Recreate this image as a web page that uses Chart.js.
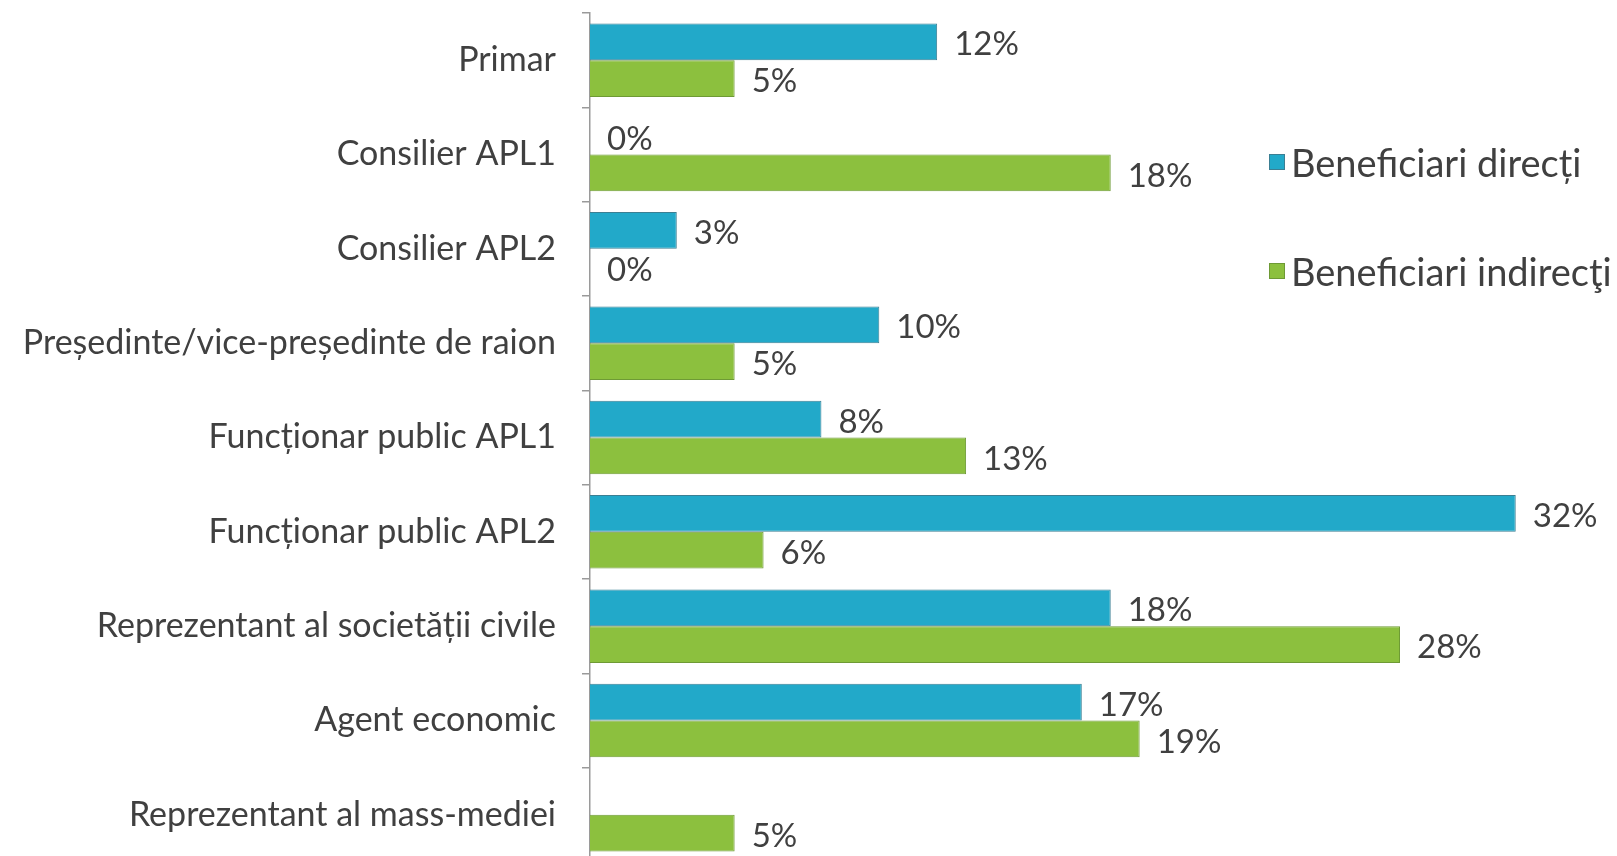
<!DOCTYPE html>
<html>
<head>
<meta charset="utf-8">
<script src="https://cdn.jsdelivr.net/npm/chart.js@4/dist/chart.umd.min.js"></script>
<style>
  html, body { margin: 0; padding: 0; background: #fff; overflow: hidden; }
  #wrap { position: relative; width: 1617px; height: 862px; }
  #legend { position: absolute; left: 1269px; top: 0; font-family: Lato, "Open Sans", sans-serif; font-size: 38px; color: #404040; }
  .item { position: absolute; left: 0; display: flex; align-items: center; white-space: nowrap; }
  .box { width: 14px; height: 14px; margin-right: 6px; border: 1px solid; }
</style>
</head>
<body>
<div id="wrap">
  <canvas id="chart"></canvas>
  <div id="legend"></div>
</div>
<script>
const categories = [
  "Primar",
  "Consilier APL1",
  "Consilier APL2",
  "Președinte/vice-președinte de raion",
  "Funcționar public APL1",
  "Funcționar public APL2",
  "Reprezentant al societății civile",
  "Agent economic",
  "Reprezentant al mass-mediei"
];
const seriesNames = ["Beneficiari direcți", "Beneficiari indirecţi"];
const directValues = [12, 0, 3, 10, 8, 32, 18, 17, null];
const indirectValues = [5, 18, 0, 5, 13, 6, 28, 19, 5];

const fillColors = ["#22a9c9", "#8cc03e"];
const edgeColors = ["#3b7f93", "#6e9a35"];
const textColor = "#404040";
const fontFamily = "Lato, 'Open Sans', sans-serif";

// value labels drawn just after the end of each bar
const valueLabels = {
  id: "valueLabels",
  afterDatasetsDraw(chart) {
    const ctx = chart.ctx;
    ctx.save();
    ctx.font = `33px ${fontFamily}`;
    ctx.fillStyle = textColor;
    ctx.textAlign = "left";
    ctx.textBaseline = "middle";
    chart.data.datasets.forEach((ds, i) => {
      chart.getDatasetMeta(i).data.forEach((bar, j) => {
        const v = ds.data[j];
        if (v === null || v === undefined) return;
        ctx.fillText(`${v}%`, bar.x + 17, bar.y + 3);
      });
    });
    ctx.restore();
  }
};

const legendEl = document.getElementById("legend");
const legendTops = [162, 271];
seriesNames.forEach((name, i) => {
  const item = document.createElement("div");
  item.className = "item";
  item.style.top = `${legendTops[i] - 24}px`;
  item.style.height = "48px";
  item.innerHTML = `<span class="box" style="background:${fillColors[i]};border-color:${edgeColors[i]}"></span><span>${name}</span>`;
  legendEl.appendChild(item);
});

const ctx = document.getElementById("chart").getContext("2d");
new Chart(ctx, {
  type: "bar",
  data: {
    labels: categories,
    datasets: [
      {
        label: seriesNames[0],
        data: directValues,
        backgroundColor: fillColors[0],
        borderColor: edgeColors[0],
        borderWidth: 1
      },
      {
        label: seriesNames[1],
        data: indirectValues,
        backgroundColor: fillColors[1],
        borderColor: edgeColors[1],
        borderWidth: 1
      }
    ]
  },
  options: {
    indexAxis: "y",
    responsive: true,
    maintainAspectRatio: false,
    animation: false,
    layout: { padding: { top: 13, right: 0, bottom: 0, left: 0 } },
    datasets: {
      bar: { categoryPercentage: 0.78, barPercentage: 1 }
    },
    plugins: {
      legend: { display: false },
      tooltip: { enabled: false }
    },
    scales: {
      x: {
        display: false,
        min: 0,
        max: 35.5
      },
      y: {
        afterFit(scale) {
          scale.width = 590;
          scale.paddingTop = 0;
          scale.paddingBottom = 0;
        },
        border: { display: true, color: "#9a9a9a", width: 1.5 },
        grid: {
          drawOnChartArea: false,
          drawTicks: true,
          tickLength: 8,
          color: "#9a9a9a",
          lineWidth: 1.5
        },
        ticks: {
          color: textColor,
          padding: 26,
          font: { family: fontFamily, size: 34 }
        }
      }
    }
  },
  plugins: [valueLabels]
});
</script>
</body>
</html>
